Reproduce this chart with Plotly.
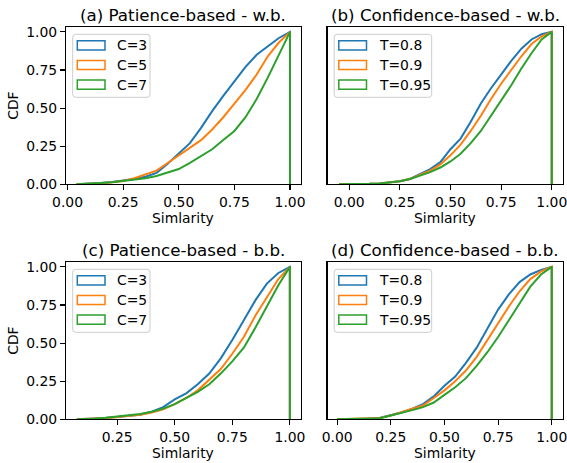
import plotly.graph_objects as go

# ---------------- data ----------------
xa = [0.04, 0.10, 0.15, 0.20, 0.25, 0.30, 0.35, 0.40, 0.45, 0.50, 0.55, 0.60, 0.65, 0.70, 0.75, 0.80, 0.85, 0.90, 0.95, 1.0]
a_c3 = [0, 0.003, 0.008, 0.015, 0.025, 0.035, 0.05, 0.075, 0.135, 0.20, 0.27, 0.37, 0.48, 0.58, 0.675, 0.77, 0.85, 0.905, 0.96, 1.0]
a_c5 = [0, 0.003, 0.007, 0.013, 0.022, 0.04, 0.065, 0.09, 0.14, 0.19, 0.235, 0.29, 0.36, 0.44, 0.53, 0.62, 0.72, 0.84, 0.93, 1.0]
a_c7 = [0, 0.003, 0.008, 0.014, 0.022, 0.03, 0.04, 0.055, 0.075, 0.10, 0.14, 0.185, 0.23, 0.29, 0.35, 0.44, 0.56, 0.70, 0.85, 1.0]

xb = [-0.05, 0.0, 0.05, 0.10, 0.15, 0.20, 0.25, 0.30, 0.35, 0.40, 0.45, 0.50, 0.55, 0.60, 0.65, 0.70, 0.75, 0.80, 0.85, 0.90, 0.95, 1.0]
b_t80 = [0, 0, 0.001, 0.003, 0.006, 0.012, 0.02, 0.035, 0.065, 0.10, 0.145, 0.23, 0.30, 0.41, 0.53, 0.63, 0.72, 0.81, 0.89, 0.95, 0.985, 1.0]
b_t90 = [0, 0, 0.001, 0.003, 0.006, 0.012, 0.02, 0.035, 0.06, 0.09, 0.13, 0.19, 0.26, 0.35, 0.45, 0.56, 0.66, 0.75, 0.84, 0.92, 0.97, 1.0]
b_t95 = [0, 0, 0.001, 0.003, 0.006, 0.012, 0.02, 0.035, 0.055, 0.08, 0.11, 0.15, 0.20, 0.27, 0.35, 0.45, 0.55, 0.65, 0.76, 0.86, 0.95, 1.0]

xc = [0.075, 0.10, 0.15, 0.20, 0.25, 0.30, 0.35, 0.40, 0.45, 0.50, 0.55, 0.60, 0.65, 0.70, 0.75, 0.80, 0.85, 0.90, 0.95, 1.0]
c_c3 = [0, 0.001, 0.003, 0.008, 0.015, 0.022, 0.03, 0.05, 0.08, 0.13, 0.17, 0.23, 0.30, 0.40, 0.52, 0.65, 0.78, 0.89, 0.96, 1.0]
c_c5 = [0, 0.001, 0.003, 0.008, 0.015, 0.022, 0.03, 0.045, 0.065, 0.10, 0.14, 0.19, 0.26, 0.33, 0.43, 0.54, 0.68, 0.80, 0.92, 1.0]
c_c7 = [0, 0.001, 0.004, 0.01, 0.017, 0.025, 0.035, 0.05, 0.07, 0.10, 0.14, 0.18, 0.23, 0.30, 0.38, 0.47, 0.60, 0.74, 0.88, 1.0]

xd = [0.0, 0.05, 0.10, 0.15, 0.20, 0.25, 0.30, 0.35, 0.40, 0.45, 0.50, 0.55, 0.60, 0.65, 0.70, 0.75, 0.80, 0.85, 0.90, 0.95, 1.0]
d_t80 = [0, 0.001, 0.002, 0.004, 0.01, 0.025, 0.045, 0.07, 0.10, 0.15, 0.22, 0.28, 0.37, 0.47, 0.60, 0.72, 0.82, 0.90, 0.95, 0.98, 1.0]
d_t90 = [0, 0.001, 0.002, 0.004, 0.008, 0.025, 0.045, 0.065, 0.09, 0.14, 0.19, 0.25, 0.32, 0.41, 0.52, 0.63, 0.74, 0.84, 0.92, 0.97, 1.0]
d_t95 = [0, 0.001, 0.002, 0.004, 0.007, 0.025, 0.04, 0.06, 0.08, 0.11, 0.16, 0.21, 0.27, 0.35, 0.44, 0.54, 0.65, 0.76, 0.87, 0.95, 1.0]

titles = ["(a) Patience-based - w.b.", "(b) Confidence-based - w.b.",
          "(c) Patience-based - b.b.", "(d) Confidence-based - b.b."]
labels_c = ["C=3", "C=5", "C=7"]
labels_t = ["T=0.8", "T=0.9", "T=0.95"]
xlabel = "Simlarity"
ylabel = "CDF"
tickvals = [0.0, 0.25, 0.5, 0.75, 1.0]

panels = [
    (xa, [a_c3, a_c5, a_c7], labels_c, [-0.007, 1.048]),
    (xb, [b_t80, b_t90, b_t95], labels_t, [-0.107, 1.054]),
    (xc, [c_c3, c_c5, c_c7], labels_c, [0.028, 1.047]),
    (xd, [d_t80, d_t90, d_t95], labels_t, [-0.045, 1.051]),
]

colors = ["#1f77b4", "#ff7f0e", "#2ca02c"]
W, H = 567, 463
FONT = "DejaVu Sans"
FS = 13.9
FT = 16.7

def fx(p):
    return p / W

def fy(p):
    return 1 - p / H

# axes frames in pixels: (left, top, right, bottom)
frames = [(66, 27.3, 300.7, 184.3), (327.5, 27.3, 562.7, 184.3),
          (66, 262.3, 300.7, 419.3), (327.5, 262.3, 562.7, 419.3)]
title_y = [15, 15, 250, 250]
xlab_y = [218, 218, 452.5, 452.5]

fig = go.Figure()
layout = dict(width=W, height=H, margin=dict(l=0, r=0, t=0, b=0, pad=0), autosize=False,
              template="none",
              paper_bgcolor="white", plot_bgcolor="white", showlegend=False,
              font=dict(family=FONT, size=FS, color="black"))
shapes = []
annotations = []

for i, (xs, ys_list, labs, xr) in enumerate(panels):
    k = "" if i == 0 else str(i + 1)
    l, t, r, b = frames[i]
    for j, ys in enumerate(ys_list):
        fig.add_trace(go.Scatter(x=list(xs) + [xs[-1]], y=list(ys) + [0], mode="lines",
                                 line=dict(color=colors[j], width=2), name=labs[j],
                                 xaxis="x" + k, yaxis="y" + k, hoverinfo="skip"))
    layout["xaxis" + k] = dict(domain=[fx(l), fx(r)], range=xr, anchor="y" + k,
                               automargin=False, ticklabeloverflow="allow",
                               showline=True, mirror=True, linecolor="black", linewidth=1.1,
                               ticks="outside", ticklen=4.9, tickwidth=1.1, tickcolor="black",
                               tickvals=tickvals, tickformat=".2f", showgrid=False,
                               zeroline=False, tickfont=dict(size=FS, family=FONT))
    leftcol = (i % 2 == 0)
    layout["yaxis" + k] = dict(domain=[fy(b), fy(t)], range=[0, 1.03], anchor="x" + k,
                               automargin=False, ticklabeloverflow="allow",
                               showline=True, mirror=True, linecolor="black", linewidth=1.1,
                               ticks="outside" if leftcol else "", ticklen=4.9, tickwidth=1.1,
                               tickcolor="black", tickvals=tickvals, tickformat=".2f",
                               showticklabels=leftcol, showgrid=False, zeroline=False,
                               tickfont=dict(size=FS, family=FONT))
    # title
    annotations.append(dict(text=titles[i], x=fx((l + r) / 2), y=fy(title_y[i]), xref="paper", yref="paper",
                            xanchor="center", yanchor="middle", showarrow=False,
                            font=dict(size=FT)))
    # x label
    annotations.append(dict(text=xlabel, x=fx((l + r) / 2), y=fy(xlab_y[i]), xref="paper", yref="paper",
                            xanchor="center", yanchor="middle", showarrow=False,
                            font=dict(size=FS)))
    if leftcol:
        annotations.append(dict(text=ylabel, x=fx(13), y=fy((t + b) / 2), xref="paper", yref="paper",
                                xanchor="center", yanchor="middle", showarrow=False, textangle=-90,
                                font=dict(size=FS)))
    # legend (manual, matplotlib style)
    bl, bt = l + 6.7, t + 7
    bw = 77.3 if labs is labels_c else 97.5
    bh = 63
    rr = 3
    x0, y0, x1, y1 = fx(bl), fy(bt), fx(bl + bw), fy(bt + bh)
    path = (f"M{fx(bl+rr)},{y0} L{fx(bl+bw-rr)},{y0} Q{x1},{y0} {x1},{fy(bt+rr)} "
            f"L{x1},{fy(bt+bh-rr)} Q{x1},{y1} {fx(bl+bw-rr)},{y1} L{fx(bl+rr)},{y1} "
            f"Q{x0},{y1} {x0},{fy(bt+bh-rr)} L{x0},{fy(bt+rr)} Q{x0},{y0} {fx(bl+rr)},{y0} Z")
    shapes.append(dict(type="path", path=path, xref="paper", yref="paper",
                       fillcolor="rgba(255,255,255,0.8)", line=dict(color="#cccccc", width=1)))
    for j in range(3):
        cy = bt + 11 + j * 19.7
        shapes.append(dict(type="rect", xref="paper", yref="paper",
                           x0=fx(bl + 4.6), x1=fx(bl + 32.3), y0=fy(cy - 4.6), y1=fy(cy + 4.6),
                           line=dict(color=colors[j], width=1.5), fillcolor="rgba(0,0,0,0)"))
        annotations.append(dict(text=labs[j], x=fx(bl + 42.3), y=fy(cy), xref="paper", yref="paper",
                                xanchor="left", yanchor="middle", showarrow=False,
                                font=dict(size=FS)))

layout["shapes"] = shapes
layout["annotations"] = annotations
fig.update_layout(**layout)
fig.write_html("out.html", config={"displayModeBar": False, "staticPlot": True},
               post_script="document.body.style.margin='0px';document.body.style.overflow='hidden';")
